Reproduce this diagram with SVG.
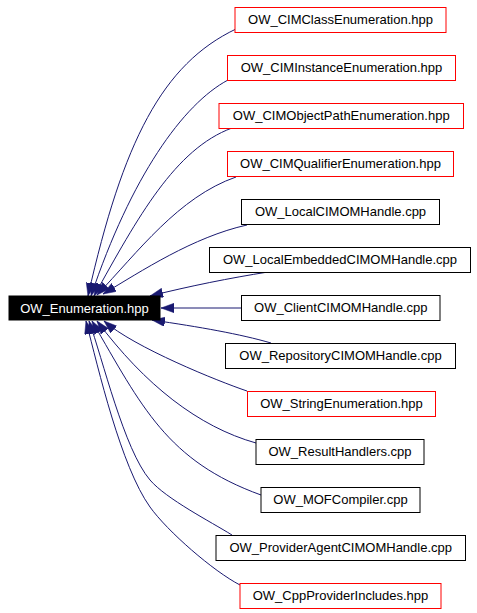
<svg xmlns="http://www.w3.org/2000/svg" width="477" height="613" viewBox="0 0 477 613">
<style>
  .bg{fill:#ffffff}
  .n rect{fill:#ffffff;stroke:#000000;stroke-width:1}
  .n.red rect{stroke:#ff0000}
  .n text{font-family:"Liberation Sans",Arial,Helvetica,sans-serif;font-size:13px;fill:#000000;text-anchor:middle}
  #main rect{fill:#000000;stroke:#000000}
  #main text{fill:#ffffff}
  .e path{fill:none;stroke:#191970;stroke-width:1;marker-end:url(#ah)}
</style>
<defs>
  <marker id="ah" markerUnits="userSpaceOnUse" orient="auto" markerWidth="14" markerHeight="10" refX="13" refY="4.7" viewBox="0 0 14 10">
    <path d="M0,0 L13,4.7 L0,9.4 Z" fill="#191970" stroke="#191970" stroke-width="0.5"/>
  </marker>
</defs>
<rect class="bg" x="0" y="0" width="477" height="613"/>
<g id="connectors" class="e">
  <path d="M236,29 C162.5,64 123,141 88,296"/>
  <path d="M228,80 C183,104 131,177 91,296"/>
  <path d="M232,128 C175,149 138,217 94,296"/>
  <path d="M236,177 C178.5,197 138,252 97,295"/>
  <path d="M247,225 C193,237 141.7,271 103,294"/>
  <path d="M268,272 C230,278 190,286 150,296"/>
  <path d="M241,308 L161,308"/>
  <path d="M271,343 C240,334 200,327 152,320"/>
  <path d="M247,391 C218.5,381.4 134,347.4 104,321"/>
  <path d="M256,443 C198.4,426.8 145,385 97,321"/>
  <path d="M261,495 C167,461 142,407 92,321"/>
  <path d="M232,535 C210.75,521.75 166.25,499 150,480 C124,449.6 102.6,358.6 89,321"/>
  <path d="M240,585 C213.3,571.2 167.4,531.3 150,507 C121,466.5 98.5,369.5 86,321"/>
</g>
<g id="main" class="n"><rect x="9" y="296" width="151" height="24"/><text x="84.5" y="312.5">OW_Enumeration.hpp</text></g>
<g id="n1" class="n red"><rect x="235" y="7.5" width="211" height="25"/><text x="340.5" y="24.3">OW_CIMClassEnumeration.hpp</text></g>
<g id="n2" class="n red"><rect x="227.5" y="55.5" width="228" height="25"/><text x="341.5" y="72.3">OW_CIMInstanceEnumeration.hpp</text></g>
<g id="n3" class="n red"><rect x="219" y="103.5" width="244.5" height="25"/><text x="341.25" y="120.3">OW_CIMObjectPathEnumeration.hpp</text></g>
<g id="n4" class="n red"><rect x="227.5" y="151.5" width="226" height="25"/><text x="340.5" y="168.3">OW_CIMQualifierEnumeration.hpp</text></g>
<g id="n5" class="n"><rect x="241.5" y="199.5" width="198" height="25"/><text x="340.5" y="216.3">OW_LocalCIMOMHandle.cpp</text></g>
<g id="n6" class="n"><rect x="209.5" y="247.5" width="261" height="25"/><text x="340" y="264.3">OW_LocalEmbeddedCIMOMHandle.cpp</text></g>
<g id="n7" class="n"><rect x="241.5" y="295.5" width="198.5" height="25"/><text x="340.75" y="312.3">OW_ClientCIMOMHandle.cpp</text></g>
<g id="n8" class="n"><rect x="225.5" y="343.5" width="230" height="25"/><text x="340.5" y="360.3">OW_RepositoryCIMOMHandle.cpp</text></g>
<g id="n9" class="n red"><rect x="247.5" y="391.5" width="188" height="25"/><text x="341.5" y="408.3">OW_StringEnumeration.hpp</text></g>
<g id="n10" class="n"><rect x="256" y="439.5" width="168" height="25"/><text x="340" y="456.3">OW_ResultHandlers.cpp</text></g>
<g id="n11" class="n"><rect x="261" y="487.5" width="159" height="25"/><text x="340.5" y="504.3">OW_MOFCompiler.cpp</text></g>
<g id="n12" class="n"><rect x="216" y="535.5" width="249.5" height="25"/><text x="340.75" y="552.3">OW_ProviderAgentCIMOMHandle.cpp</text></g>
<g id="n13" class="n red"><rect x="240" y="583.5" width="201" height="25"/><text x="340.5" y="600.3">OW_CppProviderIncludes.hpp</text></g>
</svg>
